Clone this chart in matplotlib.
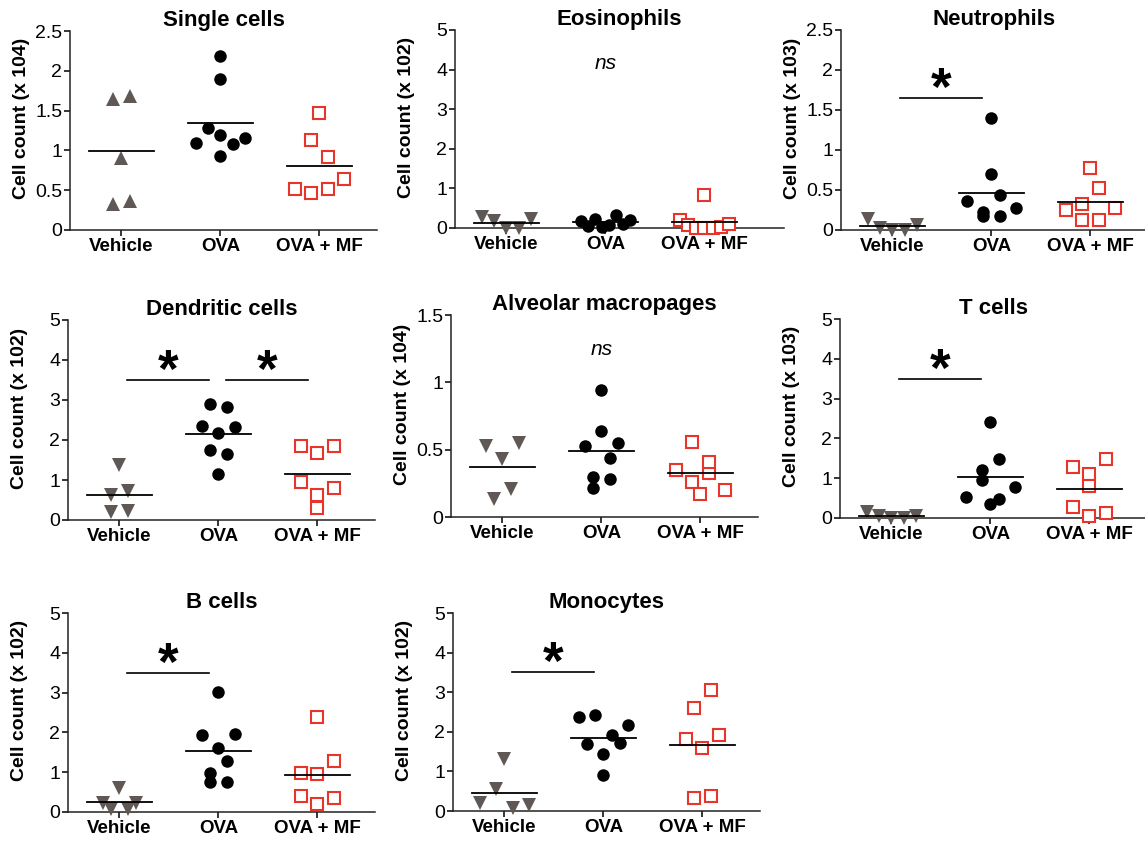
import numpy as np
import matplotlib
matplotlib.use('Agg')
import matplotlib.pyplot as plt
from matplotlib.ticker import FormatStrFormatter

plt.rcParams['font.family'] = ['Liberation Sans', 'DejaVu Sans']

groups = ['Vehicle', 'OVA', 'OVA + MF']

titles = ['Single cells', 'Eosinophils', 'Neutrophils',
          'Dendritic cells', 'Alveolar macropages', 'T cells',
          'B cells', 'Monocytes']
ylabels = ['Cell count (x 104)', 'Cell count (x 102)', 'Cell count (x 103)',
           'Cell count (x 102)', 'Cell count (x 104)', 'Cell count (x 103)',
           'Cell count (x 102)', 'Cell count (x 102)']
ymax = [2.5, 5, 2.5, 5, 1.5, 5, 5, 5]
ystep = [0.5, 1, 0.5, 1, 0.5, 1, 1, 1]

# values per group (Vehicle, OVA, OVA + MF), listed left to right as plotted
single_cells = ([1.65, 0.33, 0.91, 1.68, 0.37],
                [1.09, 1.28, 0.93, 2.18, 1.90, 1.19, 1.08, 1.15],
                [0.52, 1.13, 0.47, 1.47, 0.52, 0.92, 0.64])
eosinophils = ([0.28, 0.17, 0.0, 0.0, 0.22],
               [0.17, 0.05, 0.23, 0.03, 0.08, 0.33, 0.10, 0.20],
               [0.21, 0.08, 0.0, 0.84, 0.0, 0.0, 0.02, 0.10])
neutrophils = ([0.14, 0.03, 0.0, 0.0, 0.06],
               [0.36, 0.23, 1.40, 0.70, 0.44, 0.17, 0.18, 0.27],
               [0.33, 0.25, 0.78, 0.53, 0.13, 0.13, 0.28])
dendritic = ([0.62, 1.38, 0.72, 0.20, 0.22],
             [2.35, 2.89, 1.75, 2.17, 1.15, 2.82, 1.65, 2.33],
             [1.86, 0.94, 0.31, 1.67, 0.62, 1.86, 0.81])
alveolar = ([0.53, 0.13, 0.43, 0.21, 0.55],
            [0.53, 0.30, 0.94, 0.64, 0.44, 0.215, 0.55, 0.28],
            [0.35, 0.26, 0.556, 0.33, 0.17, 0.41, 0.20])
t_cells = ([0.15, 0.05, 0.0, 0.0, 0.05],
           [0.54, 1.21, 0.34, 2.40, 1.48, 0.95, 0.48, 0.77],
           [0.27, 1.27, 1.10, 0.04, 1.49, 0.81, 0.13])
b_cells = ([0.22, 0.08, 0.60, 0.08, 0.22],
           [1.94, 0.98, 1.62, 3.02, 0.75, 1.97, 1.27, 0.75],
           [0.99, 0.39, 2.39, 0.95, 0.21, 1.27, 0.35])
monocytes = ([0.19, 1.31, 0.55, 0.08, 0.15],
             [2.38, 1.69, 2.42, 1.93, 1.45, 0.91, 1.71, 2.17],
             [1.81, 2.61, 0.34, 1.60, 3.05, 0.39, 1.93])

panels = [single_cells, eosinophils, neutrophils, dendritic,
          alveolar, t_cells, b_cells, monocytes]

# significance: pairs of groups marked with *, and level of the bar
sig_pairs = [[], [], [(0, 1)], [(0, 1), (1, 2)], [], [(0, 1)], [(0, 1)], [(0, 1)]]
sig_level = [None, None, 1.65, 3.5, None, 3.5, 3.5, 3.5]
ns_note = [False, True, False, False, True, False, False, False]

# layout in pixels: left, top (ymax), bottom (y=0), right end of x axis
boxes = [(70, 31, 230, 2.58), (455, 30, 228, 2.8), (841, 30, 230, 2.58),
         (68, 320, 520, 2.58), (451, 315, 517, 2.58), (840, 319, 518, 2.58),
         (68, 613, 812, 2.58), (453, 613, 811, 2.58)]

W, H = 1145, 841
XMIN = -0.52
PX_PER_CAT = 99

veh_color = '#5f5855'
mf_color = '#e8352b'


def swarm_offsets(vals, span, d=0.17, half=0.25):
    vals = np.asarray(vals, float)
    order = sorted(range(len(vals)), key=lambda i: -vals[i])
    rows = []
    for i in order:
        if rows and vals[rows[-1][0]] - vals[i] < span:
            rows[-1].append(i)
        else:
            rows.append([i])
    off = np.zeros(len(vals))
    for r in rows:
        r = sorted(r)
        n = len(r)
        step = d if n < 2 else min(d, 2 * half / (n - 1))
        for k, i in enumerate(r):
            off[i] = (k - (n - 1) / 2) * step
    return off


fig = plt.figure(figsize=(W / 100, H / 100), dpi=100)

for p, data in enumerate(panels):
    left, top, bottom, xmax = boxes[p]
    width = (xmax - XMIN) * PX_PER_CAT
    ax = fig.add_axes([left / W, 1 - bottom / H, width / W, (bottom - top) / H])
    ym = ymax[p]

    styles = [dict(marker='^' if p == 0 else 'v', color=veh_color, ms=10, mew=0),
              dict(marker='o', color='black', ms=9, mew=0),
              dict(marker='s', mfc='white', mec=mf_color, ms=8, mew=1.5)]
    for g, vals in enumerate(data):
        off = swarm_offsets(vals, 0.1 * ym)
        ax.plot(g + off, vals, linestyle='none', clip_on=False, zorder=3, **styles[g])
        m = np.mean(vals)
        ax.plot([g - 0.33, g + 0.33], [m, m], color='black', lw=1.3, zorder=4,
                clip_on=False)

    for (a, b) in sig_pairs[p]:
        y = sig_level[p]
        ax.plot([a + 0.08, b - 0.1], [y, y], color='black', lw=1.2)
        ax.annotate('*', xy=((a + b) / 2 - 0.01, y), xytext=(0, -5),
                    textcoords='offset points', ha='center', va='baseline',
                    fontsize=38, fontweight='bold')
    if ns_note[p]:
        ax.text(1, 0.83 * ym, 'ns', ha='center', va='center',
                fontsize=15, style='italic')

    ax.set_xlim(XMIN, xmax)
    ax.set_ylim(0, ym)
    ax.set_yticks(np.arange(0, ym + ystep[p] / 2, ystep[p]))
    ax.yaxis.set_major_formatter(FormatStrFormatter('%g'))
    ax.set_xticks([0, 1, 2])
    ax.set_xticklabels(groups, fontweight='bold', fontsize=13.5)
    ax.tick_params(axis='y', labelsize=14, length=4, width=1.1, pad=1.5)
    ax.tick_params(axis='x', length=4, width=1.1, pad=1.5)
    for s in ['top', 'right']:
        ax.spines[s].set_visible(False)
    for s in ['left', 'bottom']:
        ax.spines[s].set_linewidth(1.1)
        ax.spines[s].set_color('#222222')
    ax.set_title(titles[p], fontsize=16, fontweight='bold', pad=3)
    ax.set_ylabel(ylabels[p], fontsize=14, fontweight='bold')
    ax.yaxis.set_label_coords(-40 / width, 0.56)

plt.savefig('out.png', dpi=100)
